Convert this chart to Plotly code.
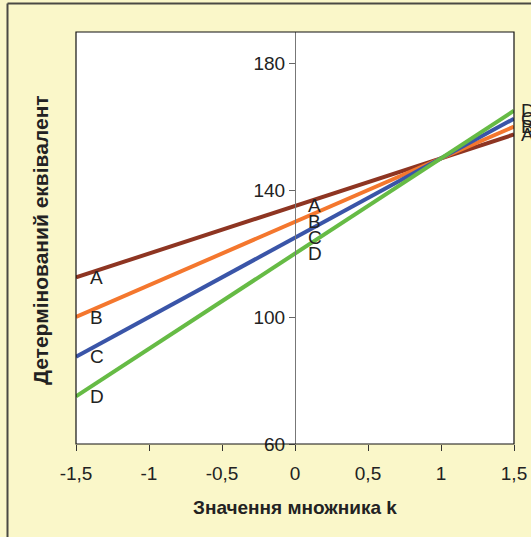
import plotly.graph_objects as go

# Multiplier values k and the determined equivalent for each variant
k_values = [-1.5, -1.0, -0.5, 0.0, 0.5, 1.0, 1.5]
series_names = ["A", "B", "C", "D"]
series_a = [112.5, 120.0, 127.5, 135.0, 142.5, 150.0, 157.5]
series_b = [100.0, 110.0, 120.0, 130.0, 140.0, 150.0, 160.0]
series_c = [87.5, 100.0, 112.5, 125.0, 137.5, 150.0, 162.5]
series_d = [75.0, 90.0, 105.0, 120.0, 135.0, 150.0, 165.0]
series_values = [series_a, series_b, series_c, series_d]
series_colors = ["#8E3522", "#F4772E", "#3A55A8", "#66BB45"]

x_tick_vals = [-1.5, -1.0, -0.5, 0.0, 0.5, 1.0, 1.5]
x_tick_text = ["-1,5", "-1", "-0,5", "0", "0,5", "1", "1,5"]
y_tick_vals = [60, 100, 140, 180]

x_title = "Значення множника k"
y_title = "Детермінований еквівалент"

W, H = 531, 537
M_L, M_R, M_T, M_B = 76, 17, 32, 93
plot_w = W - M_L - M_R
plot_h = H - M_T - M_B

font_family = "Liberation Sans, Arial, sans-serif"
text_color = "#222222"
tick_size = 19
label_size = 19

fig = go.Figure()

for name, vals, color in zip(series_names, series_values, series_colors):
    fig.add_trace(go.Scatter(
        x=k_values, y=vals, mode="lines", name=name,
        line=dict(color=color, width=4),
        showlegend=False, hoverinfo="skip",
    ))

# Letter labels at the left edge, at k = 0 and at the right edge
annotations = []
for name, vals in zip(series_names, series_values):
    for idx, shift in [(0, 12), (3, 11), (len(k_values) - 1, 5)]:
        annotations.append(dict(
            x=k_values[idx], y=vals[idx], xref="x", yref="y",
            text=name, showarrow=False, xanchor="left", yanchor="middle",
            xshift=shift, font=dict(family=font_family, size=label_size, color=text_color),
        ))

def px_to_paper_x(px):
    return (px - M_L) / plot_w

def px_to_paper_y(py):
    return (H - M_B - py) / plot_h

# Axis titles
annotations.append(dict(
    x=px_to_paper_x(295), y=px_to_paper_y(507), xref="paper", yref="paper",
    text="<b>" + x_title + "</b>", showarrow=False, xanchor="center", yanchor="middle",
    font=dict(family=font_family, size=19, color=text_color),
))
annotations.append(dict(
    x=px_to_paper_x(40), y=px_to_paper_y(240), xref="paper", yref="paper",
    text="<b>" + y_title + "</b>", showarrow=False, textangle=-90,
    xanchor="center", yanchor="middle",
    font=dict(family=font_family, size=21, color=text_color),
))

shapes = [
    # plot frame
    dict(type="rect", xref="paper", yref="paper", x0=0, y0=0, x1=1, y1=1,
         line=dict(color="#111111", width=1.2), layer="above"),
    # outer chart frame (top and left edges)
    dict(type="line", xref="paper", yref="paper",
         x0=px_to_paper_x(7.5), y0=px_to_paper_y(3.5),
         x1=px_to_paper_x(540), y1=px_to_paper_y(3.5),
         line=dict(color="#4a4a44", width=2)),
    dict(type="line", xref="paper", yref="paper",
         x0=px_to_paper_x(7.5), y0=px_to_paper_y(3.5),
         x1=px_to_paper_x(7.5), y1=px_to_paper_y(545),
         line=dict(color="#4a4a44", width=2)),
]

fig.update_layout(
    width=W, height=H,
    margin=dict(l=M_L, r=M_R, t=M_T, b=M_B, pad=0),
    paper_bgcolor="#FAF7C9",
    plot_bgcolor="#FFFFFF",
    font=dict(family=font_family, size=tick_size, color=text_color),
    xaxis=dict(
        range=[-1.5, 1.5], domain=[0, 1], automargin=False,
        tickvals=x_tick_vals, ticktext=x_tick_text,
        ticks="outside", ticklen=6, tickcolor="#333333", tickwidth=1,
        ticklabelstandoff=6,
        showgrid=False, zeroline=False, showline=False,
        tickfont=dict(family=font_family, size=tick_size, color=text_color),
    ),
    yaxis=dict(
        range=[60, 189.8], anchor="free", position=0.5, automargin=False,
        tickvals=y_tick_vals, ticks="outside", ticklen=6,
        tickcolor="#666666", tickwidth=1,
        showline=True, linecolor="#777777", linewidth=1,
        showgrid=False, zeroline=False,
        tickfont=dict(family=font_family, size=tick_size, color=text_color),
    ),
    annotations=annotations,
    shapes=shapes,
)

fig.write_html("out.html")
